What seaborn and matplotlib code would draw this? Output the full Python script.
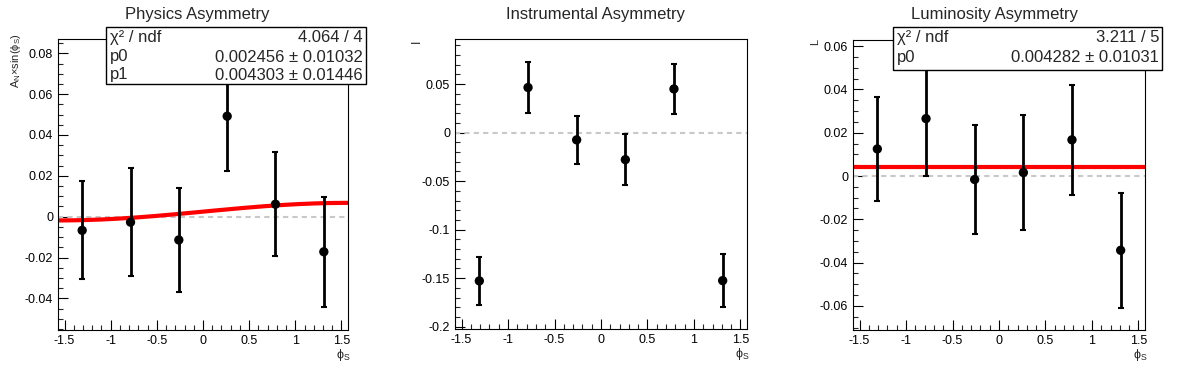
import numpy as np
import pandas as pd
import matplotlib
matplotlib.use("Agg")
import matplotlib.pyplot as plt
import seaborn as sns
from matplotlib.ticker import MultipleLocator, FuncFormatter
from matplotlib.patches import Rectangle

# bin centres in phi_S (6 bins over -pi/2..pi/2)
phi_s = [-1.309, -0.785, -0.262, 0.262, 0.785, 1.309]

phys_y = [-0.0067, -0.0027, -0.0114, 0.0492, 0.0061, -0.0172]
phys_err = [0.0240, 0.0266, 0.0253, 0.0266, 0.0255, 0.0269]

inst_y = [-0.1528, 0.0466, -0.0074, -0.0278, 0.0451, -0.1525]
inst_err = [0.0245, 0.0260, 0.0250, 0.0260, 0.0257, 0.0270]

lumi_y = [0.0125, 0.0265, -0.0016, 0.0016, 0.0167, -0.0343]
lumi_err = [0.0242, 0.0265, 0.0252, 0.0264, 0.0254, 0.0266]

# fit results (p0 + p1*sin(phi) for physics, constant for luminosity)
phys_fit = {"chi2": "4.064 / 4", "p0": 0.002456, "p0_err": "0.01032",
            "p1": 0.004303, "p1_err": "0.01446"}
lumi_fit = {"chi2": "3.211 / 5", "p0": 0.004282, "p0_err": "0.01031"}

sns.set_style("ticks")
plt.rcParams["font.family"] = ["Liberation Sans", "DejaVu Sans"]
plt.rcParams["axes.unicode_minus"] = False
plt.rcParams["mathtext.default"] = "regular"

W, H = 1196, 372
fig = plt.figure(figsize=(W / 100, H / 100), dpi=100)


def fx(px):
    return px / W


def fy(py):
    return 1 - py / H


def make_axes(left, right, top, bottom):
    return fig.add_axes([fx(left), fy(bottom), fx(right) - fx(left), fy(top) - fy(bottom)])


def style(ax, ylim, ymajor, yminor):
    ax.set_xlim(-np.pi / 2, np.pi / 2)
    ax.set_ylim(*ylim)
    ax.xaxis.set_major_locator(MultipleLocator(0.5))
    ax.xaxis.set_minor_locator(MultipleLocator(0.1))
    ax.yaxis.set_major_locator(MultipleLocator(ymajor))
    ax.yaxis.set_minor_locator(MultipleLocator(yminor))
    fmt = FuncFormatter(lambda v, p: "%g" % round(v, 6))
    ax.xaxis.set_major_formatter(fmt)
    ax.yaxis.set_major_formatter(fmt)
    ax.tick_params(which="major", direction="in", length=7, width=0.8,
                   labelsize=9, pad=3.5, colors="black")
    ax.tick_params(which="minor", direction="in", length=3.5, width=0.8)
    for s in ax.spines.values():
        s.set_linewidth(0.8)
        s.set_color("black")
    ax.set_xlabel("")
    ax.set_ylabel("")
    ax.axhline(0, color="#c8c8c8", ls=(0, (2.5, 2)), lw=1.5, zorder=1)
    ax.text(0.985, -0.058, "ϕ$_S$", transform=ax.transAxes, ha="center",
            va="top", fontsize=9)


def points(ax, y, err):
    ax.errorbar(phi_s, y, yerr=err, fmt="none", ecolor="black",
                elinewidth=2, capsize=2, capthick=1.5, zorder=3)
    sns.scatterplot(x=phi_s, y=y, ax=ax, color="black", s=45,
                    edgecolor="none", zorder=4, legend=False)


def stats_box(left, right, top, bottom, rows, row_y):
    fig.add_artist(Rectangle((fx(left), fy(bottom)), fx(right) - fx(left),
                             fy(top) - fy(bottom), transform=fig.transFigure,
                             facecolor="white", edgecolor="black", lw=1, zorder=10))
    for (name, val), yy in zip(rows, row_y):
        fig.text(fx(left + 4), fy(yy), name, ha="left", va="center",
                 fontsize=12, zorder=11)
        fig.text(fx(right - 3), fy(yy), val, ha="right", va="center",
                 fontsize=12, zorder=11)


x_fit = np.linspace(-np.pi / 2, np.pi / 2, 200)

# --- Physics asymmetry
ax1 = make_axes(58, 348, 39, 330)
fit1 = pd.DataFrame({"x": x_fit,
                     "y": phys_fit["p0"] + phys_fit["p1"] * np.sin(x_fit)})
sns.lineplot(data=fit1, x="x", y="y", ax=ax1, color="red", lw=3, zorder=2)
points(ax1, phys_y, phys_err)
style(ax1, (-0.0555, 0.087), 0.02, 0.005)
fig.text(fx(197), fy(15), "Physics Asymmetry", ha="center", va="center", fontsize=12)
fig.text(fx(16), fy(33), "A$_N$×sin(ϕ$_S$)", rotation=90, ha="center", va="top", fontsize=8)
stats_box(106, 366, 27, 84,
          [("χ² / ndf", phys_fit["chi2"]),
           ("p0", "%.6f ± %s" % (phys_fit["p0"], phys_fit["p0_err"])),
           ("p1", "%.6f ± %s" % (phys_fit["p1"], phys_fit["p1_err"]))],
          [37.5, 57, 75])

# --- Instrumental asymmetry
ax2 = make_axes(455, 747, 39, 329)
points(ax2, inst_y, inst_err)
style(ax2, (-0.2024, 0.0966), 0.05, 0.01)
fig.text(fx(596), fy(15), "Instrumental Asymmetry", ha="center", va="center", fontsize=12)
fig.text(fx(417), fy(41), "I", rotation=90, ha="center", va="center", fontsize=9)

# --- Luminosity asymmetry
ax3 = make_axes(853, 1145, 40, 330)
fit3 = pd.DataFrame({"x": x_fit, "y": np.full_like(x_fit, lumi_fit["p0"])})
sns.lineplot(data=fit3, x="x", y="y", ax=ax3, color="red", lw=3, zorder=2)
points(ax3, lumi_y, lumi_err)
style(ax3, (-0.0711, 0.0628), 0.02, 0.005)
fig.text(fx(995), fy(15), "Luminosity Asymmetry", ha="center", va="center", fontsize=12)
fig.text(fx(815), fy(42), "L", rotation=90, ha="center", va="center", fontsize=8)
stats_box(893, 1162, 27, 70,
          [("χ² / ndf", lumi_fit["chi2"]),
           ("p0", "%.6f ± %s" % (lumi_fit["p0"], lumi_fit["p0_err"]))],
          [37.5, 57.5])

fig.savefig("out.png", dpi=100, facecolor="white")
